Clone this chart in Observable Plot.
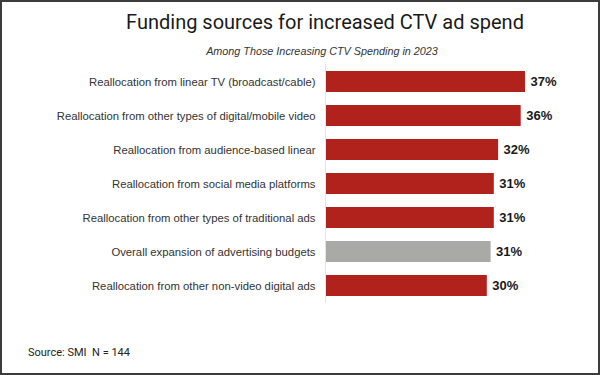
<!DOCTYPE html>
<html>
<head>
<meta charset="utf-8">
<script src="https://cdn.jsdelivr.net/npm/d3@7"></script>
<script src="https://cdn.jsdelivr.net/npm/@observablehq/plot@0.6"></script>
<style>
  html, body { margin: 0; padding: 0; background: #fff; }
  #wrap { position: relative; width: 600px; height: 375px; overflow: hidden; background: #fff; }
  #frame { position: absolute; inset: 0; border: 2px solid #3c3c3c; pointer-events: none; box-sizing: border-box; }
  #title { position: absolute; left: 125px; width: 400px; top: 12px; text-align: center; font-family: Roboto, sans-serif; font-size: 20px; line-height: 20px; color: #1a1a1a; white-space: nowrap; }
  #subtitle { position: absolute; left: 172px; width: 300px; top: 46px; text-align: center; font-family: "Liberation Sans", Arial, sans-serif; font-style: italic; font-size: 10.8px; line-height: 11px; color: #333; white-space: nowrap; }
  #caption { position: absolute; left: 28px; top: 347px; font-family: Roboto, sans-serif; font-size: 11px; line-height: 11px; color: #222; white-space: pre; }
  #chart { position: absolute; left: 0; top: 0; }
</style>
</head>
<body>
<div id="wrap">
  <div id="chart"></div>
  <div id="title">Funding sources for increased CTV ad spend</div>
  <div id="subtitle">Among Those Increasing CTV Spending in 2023</div>
  <div id="caption">Source: SMI  N = 144</div>
  <div id="frame"></div>
</div>
<script>
const categories = [
  "Reallocation from linear TV (broadcast/cable)",
  "Reallocation from other types of digital/mobile video",
  "Reallocation from audience-based linear",
  "Reallocation from social media platforms",
  "Reallocation from other types of traditional ads",
  "Overall expansion of advertising budgets",
  "Reallocation from other non-video digital ads"
];
const values = [37, 36, 32, 31, 31, 31, 30];
const barLengths = [37, 36.2, 32, 31.2, 31.2, 30.6, 29.9];
const kinds = ["reallocation", "reallocation", "reallocation", "reallocation", "reallocation", "expansion", "reallocation"];
const valueLabels = ["37%", "36%", "32%", "31%", "31%", "31%", "30%"];

const data = categories.map((c, i) => ({
  category: c,
  value: values[i],
  bar: barLengths[i],
  kind: kinds[i],
  label: valueLabels[i]
}));

const chart = Plot.plot({
  width: 600,
  height: 375,
  marginLeft: 326,
  marginRight: 10,
  marginTop: 64,
  marginBottom: 72,
  style: { fontFamily: "'Liberation Sans', Arial, sans-serif", background: "transparent" },
  x: { domain: [0, 37], range: [326, 525], axis: null },
  y: { domain: categories, range: [64.5, 302.5], paddingInner: 0.38, paddingOuter: 0.19, label: null },
  color: { domain: ["reallocation", "expansion"], range: ["#b1221c", "#a9a9a5"] },
  marks: [
    Plot.ruleX([0], { stroke: "#e4e4e4", strokeWidth: 1, dx: -1 }),
    Plot.barX(data, { x: "bar", y: "category", fill: "kind" }),
    Plot.axisY({ tickSize: 0, tickPadding: 11, fontSize: 11.3, color: "#333", fontFamily: "'Liberation Sans', Arial, sans-serif" }),
    Plot.text(data, { x: "bar", y: "category", text: "label", textAnchor: "start", dx: 5, fontSize: 13, fontWeight: "bold", fill: "#1a1a1a", fontFamily: "'Liberation Sans', Arial, sans-serif" })
  ]
});
document.getElementById("chart").appendChild(chart);
</script>
</body>
</html>
